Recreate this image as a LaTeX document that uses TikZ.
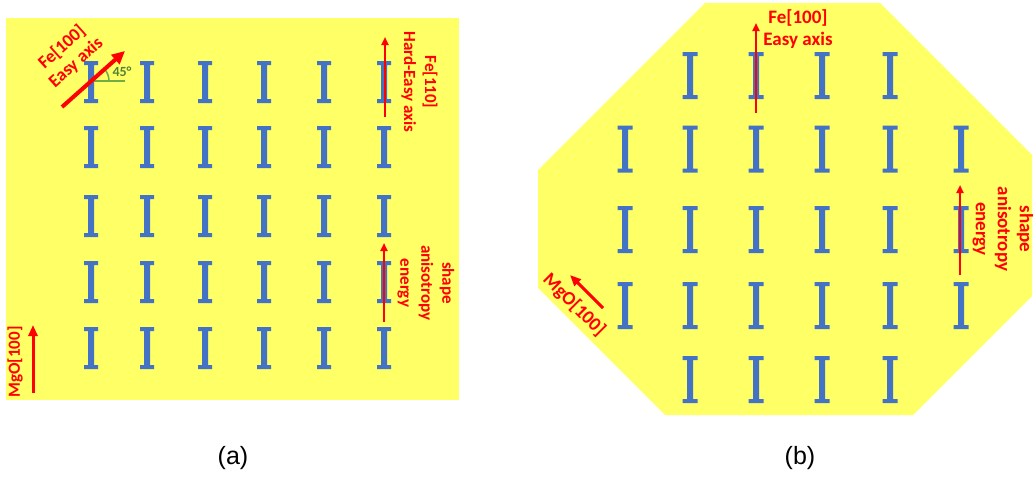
\documentclass[tikz,border=0pt]{standalone}
\usepackage{fontspec}
\setmainfont{Carlito}
\newfontfamily\arialfont{Liberation Sans}
\usetikzlibrary{arrows.meta}
\definecolor{padyellow}{HTML}{FFFF66}
\definecolor{barblue}{HTML}{4472C4}
\definecolor{axisred}{HTML}{FF0000}
\definecolor{anglegreen}{HTML}{70AD47}
\definecolor{angletext}{HTML}{548235}
\begin{document}
\begin{tikzpicture}[x=1pt,y=-1pt,
  ibarA/.pic={\fill[barblue] (-7,-21) -- (7,-21) -- (7,-17) -- (3,-17) -- (3,17) -- (7,17) -- (7,21) -- (-7,21) -- (-7,17) -- (-3,17) -- (-3,-17) -- (-7,-17) -- cycle;},
  ibarB/.pic={\fill[barblue] (-7.5,-23.5) -- (7.5,-23.5) -- (7.5,-19.5) -- (3,-19.5) -- (3,19.5) -- (7.5,19.5) -- (7.5,23.5) -- (-7.5,23.5) -- (-7.5,19.5) -- (-3,19.5) -- (-3,-19.5) -- (-7.5,-19.5) -- cycle;},
  lblA/.style={text=axisred, font=\fontsize{17}{21}\selectfont\bfseries, align=center, inner sep=0pt},
  lblB/.style={text=axisred, font=\fontsize{19}{22}\selectfont\bfseries, align=center, inner sep=0pt},
  thinarrow/.style={draw=axisred, line width=2pt, -{Triangle[length=8pt,width=7pt]}},
  thickarrow/.style={draw=axisred, line width=3pt, -{Triangle[length=11pt,width=9pt]}},
  bigarrow/.style={draw=axisred, line width=4pt, -{Triangle[length=13pt,width=12pt]}},
  caption/.style={font=\arialfont\fontsize{25}{28}\selectfont, inner sep=0pt}
]
\useasboundingbox (0,0) rectangle (1034,479);
% ---------- panel (a) ----------
\fill[padyellow] (6,18) rectangle (459,400);
\foreach \x in {91,147,205,264,324,384}
  \foreach \y in {82,147,216,282,348}
    \pic at (\x,\y) {ibarA};
% 45 degree marker
\coordinate (angc) at (91,81);
\coordinate (angend) at (125,81);
\draw[anglegreen, line width=1.5pt] (angc) -- (angend);
\draw[anglegreen, line width=1.5pt] (109,81) .. controls (109,76.5) and (107.4,72.3) .. (104.4,69);
\node[text=angletext, font=\fontsize{14}{16}\selectfont\bfseries, inner sep=0pt] (ang) at (122,71.5) {45°};
% Fe[100] easy axis
\coordinate (feA1) at (62,107);
\coordinate (feA2) at (125,51);
\draw[bigarrow] (feA1) -- (feA2);
\node[lblA, rotate=42, font=\fontsize{18}{21}\selectfont\bfseries] (feAlbl) at (69,55) {Fe[100]\\Easy axis};
% Fe[110]
\coordinate (fe110a) at (385,117);
\coordinate (fe110b) at (385,37);
\draw[thinarrow] (fe110a) -- (fe110b);
\node[lblA, rotate=-90] (fe110lbl) at (419.5,82) {Fe[110]\\Hard-Easy axis};
% shape anisotropy (a)
\coordinate (shA1) at (384,322);
\coordinate (shA2) at (384,243);
\draw[thinarrow] (shA1) -- (shA2);
\node[lblA, rotate=-90] (shAlbl) at (426,283) {shape\\anisotropy\\energy};
% MgO (a)
\coordinate (mgA1) at (33,393);
\coordinate (mgA2) at (33,325);
\draw[thickarrow] (mgA1) -- (mgA2);
\node[lblA, rotate=90] (mgAlbl) at (15,362) {MgO[100]};
\node[caption] (capa) at (233,458) {(a)};
% ---------- panel (b) ----------
\fill[padyellow] (705,3) -- (880,3) -- (1032,155) -- (1032,296) -- (913,415) -- (665,415) -- (538,288) -- (538,170) -- cycle;
\foreach \x in {625,690,756,822,890,961}
  \foreach \y in {149,229.5,305.5}
    \pic at (\x,\y) {ibarB};
\foreach \x in {690,756,822,890}
  \foreach \y in {75.5,379.5}
    \pic at (\x,\y) {ibarB};
% Fe[100] (b)
\coordinate (feB1) at (756,113);
\coordinate (feB2) at (756,23);
\draw[thinarrow] (feB1) -- (feB2);
\node[lblB] (feBlbl) at (798,29) {Fe[100]\\Easy axis};
% shape anisotropy (b)
\coordinate (shB1) at (960,275);
\coordinate (shB2) at (960,185);
\draw[thinarrow] (shB1) -- (shB2);
\node[lblB, rotate=-90] (shBlbl) at (1003,229) {shape\\anisotropy\\energy};
% MgO (b)
\coordinate (mgB1) at (603,308);
\coordinate (mgB2) at (570,275);
\draw[thickarrow] (mgB1) -- (mgB2);
\node[lblB, rotate=-45] (mgBlbl) at (574,305) {MgO[100]};
\node[caption] (capb) at (800,458) {(b)};
\end{tikzpicture}
\end{document}
